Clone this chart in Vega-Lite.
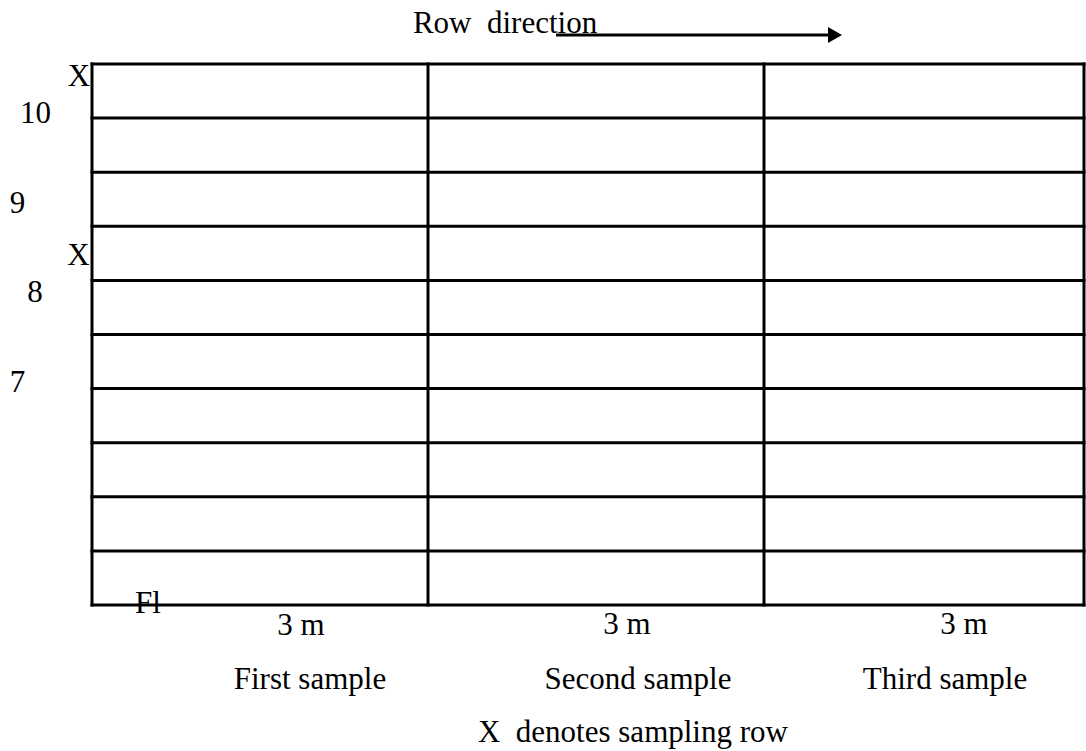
{
  "$schema": "https://vega.github.io/schema/vega-lite/v6.json",
  "width": 1086,
  "height": 751,
  "autosize": {"type": "none"},
  "padding": 0,
  "background": "white",
  "config": {"view": {"stroke": null}},
  "datasets": {
    "hlines": [
      {"row": 0, "start": 0, "end": 8.857},
      {"row": 1, "start": 0, "end": 8.857},
      {"row": 2, "start": 0, "end": 8.857},
      {"row": 3, "start": 0, "end": 8.857},
      {"row": 4, "start": 0, "end": 8.857},
      {"row": 5, "start": 0, "end": 8.857},
      {"row": 6, "start": 0, "end": 8.857},
      {"row": 7, "start": 0, "end": 8.857},
      {"row": 8, "start": 0, "end": 8.857},
      {"row": 9, "start": 0, "end": 8.857},
      {"row": 10, "start": 0, "end": 8.857}
    ],
    "vlines": [
      {"dist": 0, "bottom": 0, "top": 10},
      {"dist": 3, "bottom": 0, "top": 10},
      {"dist": 6, "bottom": 0, "top": 10},
      {"dist": 8.857, "bottom": 0, "top": 10}
    ],
    "arrow": [
      {"from": 4.143, "to": 6.59, "level": 10.536, "head": 6.634}
    ],
    "labels": [
      {"label": "Row\u00a0 direction", "px": 3.688, "py": 10.573},
      {"label": "X", "px": -0.116, "py": 9.593},
      {"label": "10", "px": -0.504, "py": 8.909},
      {"label": "9", "px": -0.665, "py": 7.246},
      {"label": "X", "px": -0.121, "py": 6.285},
      {"label": "8", "px": -0.509, "py": 5.601},
      {"label": "7", "px": -0.665, "py": 3.937},
      {"label": "Fl", "px": 0.5, "py": -0.148},
      {"label": "3 m", "px": 1.866, "py": -0.555},
      {"label": "3 m", "px": 4.777, "py": -0.536},
      {"label": "3 m", "px": 7.786, "py": -0.536},
      {"label": "First sample", "px": 1.946, "py": -1.55},
      {"label": "Second sample", "px": 4.875, "py": -1.55},
      {"label": "Third sample", "px": 7.616, "py": -1.55},
      {"label": "X\u00a0 denotes sampling row", "px": 4.83, "py": -2.532}
    ]
  },
  "layer": [
    {
      "data": {"name": "hlines"},
      "mark": {"type": "rule", "color": "black", "strokeWidth": 3, "strokeCap": "square"},
      "encoding": {
        "x": {"field": "start", "type": "quantitative", "axis": null, "scale": {"domain": [-0.8214, 8.875], "nice": false, "zero": false}},
        "x2": {"field": "end"},
        "y": {"field": "row", "type": "quantitative", "axis": null, "scale": {"domain": [-2.699, 11.183], "nice": false, "zero": false}}
      }
    },
    {
      "data": {"name": "vlines"},
      "mark": {"type": "rule", "color": "black", "strokeWidth": 3, "strokeCap": "square"},
      "encoding": {
        "x": {"field": "dist", "type": "quantitative", "axis": null, "scale": {"domain": [-0.8214, 8.875], "nice": false, "zero": false}},
        "y": {"field": "bottom", "type": "quantitative", "axis": null, "scale": {"domain": [-2.699, 11.183], "nice": false, "zero": false}},
        "y2": {"field": "top"}
      }
    },
    {
      "data": {"name": "arrow"},
      "mark": {"type": "rule", "color": "black", "strokeWidth": 3},
      "encoding": {
        "x": {"field": "from", "type": "quantitative", "axis": null, "scale": {"domain": [-0.8214, 8.875], "nice": false, "zero": false}},
        "x2": {"field": "to"},
        "y": {"field": "level", "type": "quantitative", "axis": null, "scale": {"domain": [-2.699, 11.183], "nice": false, "zero": false}}
      }
    },
    {
      "data": {"name": "arrow"},
      "mark": {"type": "point", "shape": "triangle-right", "filled": true, "color": "black", "opacity": 1, "size": 260},
      "encoding": {
        "x": {"field": "head", "type": "quantitative", "axis": null, "scale": {"domain": [-0.8214, 8.875], "nice": false, "zero": false}},
        "y": {"field": "level", "type": "quantitative", "axis": null, "scale": {"domain": [-2.699, 11.183], "nice": false, "zero": false}}
      }
    },
    {
      "data": {"name": "labels"},
      "mark": {"type": "text", "font": "Liberation Serif", "fontSize": 31, "color": "black", "align": "center", "baseline": "alphabetic"},
      "encoding": {
        "x": {"field": "px", "type": "quantitative", "axis": null, "scale": {"domain": [-0.8214, 8.875], "nice": false, "zero": false}},
        "y": {"field": "py", "type": "quantitative", "axis": null, "scale": {"domain": [-2.699, 11.183], "nice": false, "zero": false}},
        "text": {"field": "label", "type": "nominal"}
      }
    }
  ]
}
